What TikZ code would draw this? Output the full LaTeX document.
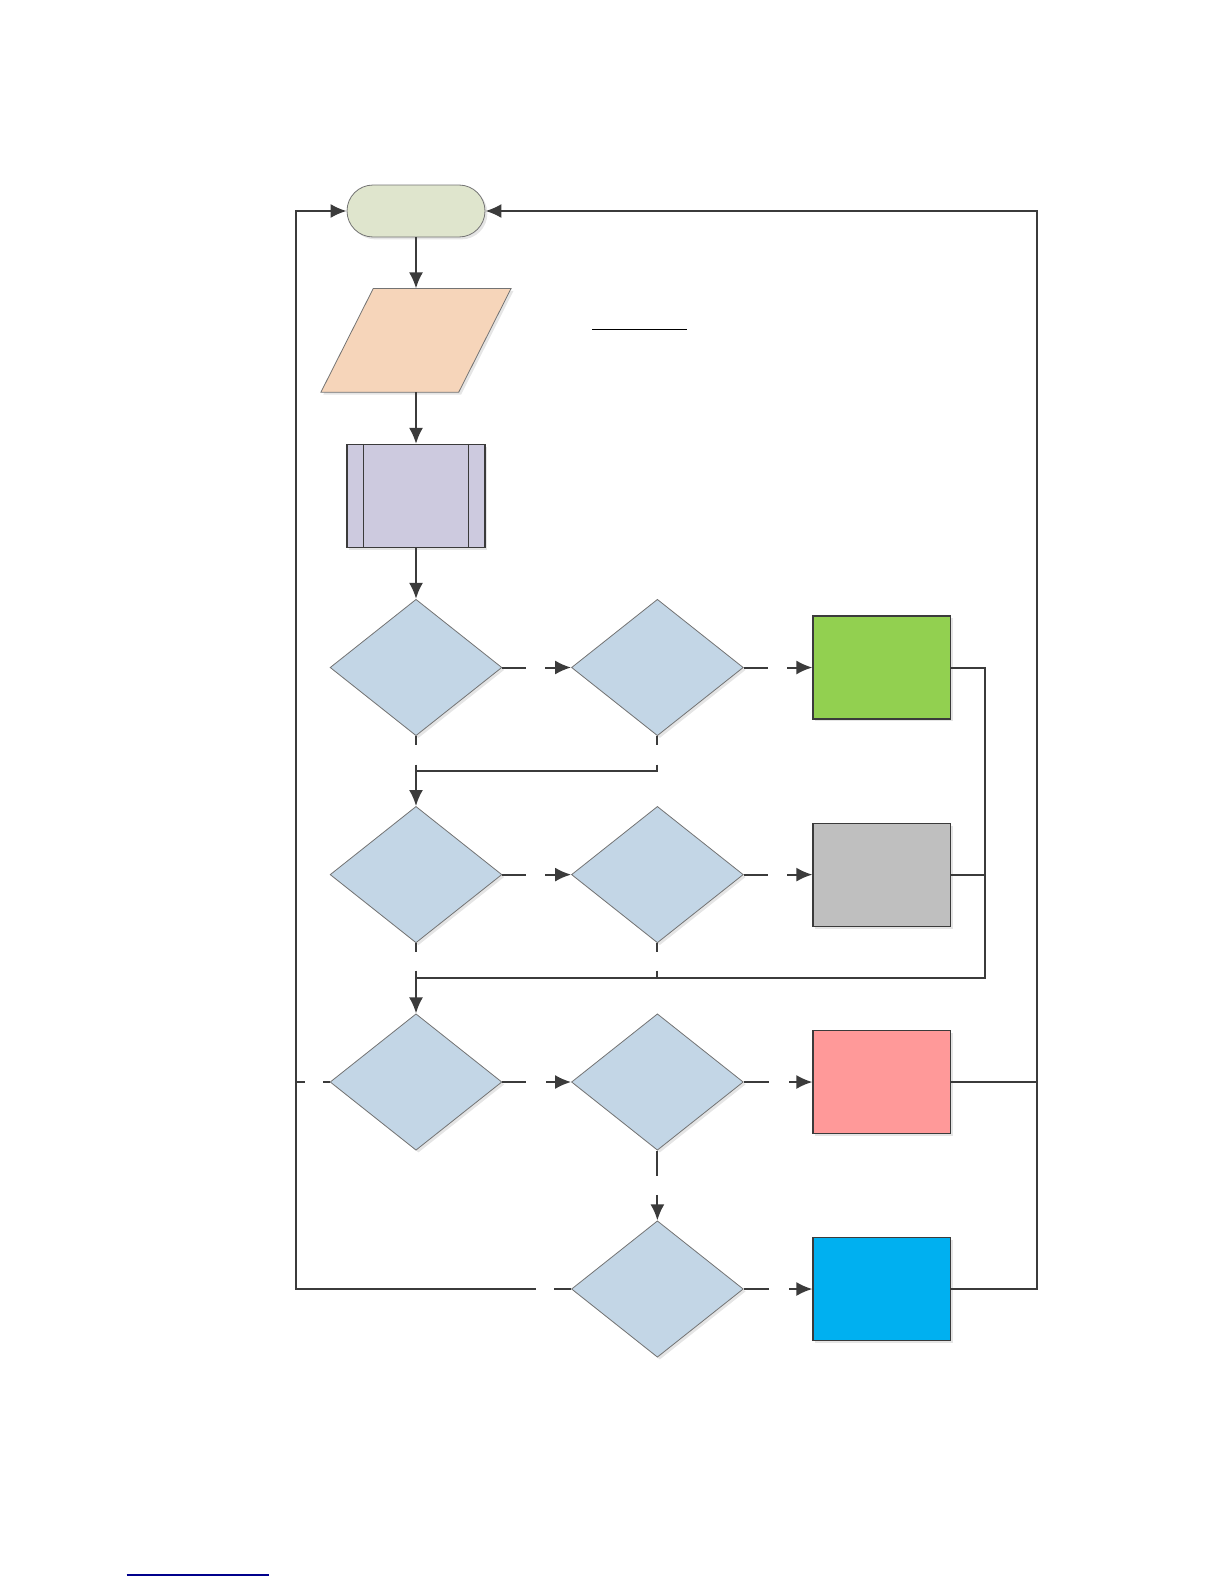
\documentclass[tikz,border=0pt]{standalone}
\usepackage{tikz}
\usetikzlibrary{shapes.geometric, shapes.misc, arrows.meta, shadows}
\definecolor{lineclr}{HTML}{3B3B3B}
\definecolor{termclr}{HTML}{DFE5CD}
\definecolor{inclr}{HTML}{F6D5BA}
\definecolor{subclr}{HTML}{CDCADF}
\definecolor{decclr}{HTML}{C3D6E6}
\definecolor{okclr}{HTML}{92D050}
\definecolor{midclr}{HTML}{BFBFBF}
\definecolor{badclr}{HTML}{FF9999}
\definecolor{infoclr}{HTML}{00B0F0}

\begin{document}
\begin{tikzpicture}[x=0.5pt, y=-0.5pt,
  shady/.style = {drop shadow={shadow xshift=1.2pt, shadow yshift=-1.2pt, fill=black!20, opacity=0.5}},
  term/.style = {rounded rectangle, draw=black!55, line width=0.4pt, fill=termclr, minimum width=69pt, minimum height=26pt, inner sep=0pt, shady},
  inbox/.style = {rectangle, minimum width=68.5pt, minimum height=51.5pt, inner sep=0pt},
  subbox/.style = {rectangle, draw=lineclr, line width=0.6pt, fill=subclr, minimum width=69pt, minimum height=51.5pt, inner sep=0pt, shady},
  dec/.style = {diamond, draw=black!55, line width=0.4pt, fill=decclr, minimum width=85.9pt, minimum height=68.2pt, inner sep=0pt, shady},
  res/.style = {rectangle, draw=lineclr, line width=0.6pt, minimum width=68.7pt, minimum height=51.5pt, inner sep=0pt, shady},
  ln/.style = {draw=lineclr, line width=1pt},
  arr/.style = {ln, -{Latex[length=8pt, width=7pt]}}]
  \useasboundingbox (0,0) rectangle (1224,1584);

  \node[term] (start) at (416,211) {};
  \node[inbox] (in) at (416,340.3) {};
  \filldraw[draw=black!55, line width=0.4pt, fill=inclr, shady]
    ([xshift=-13.1pt]in.south west) -- ([xshift=-13.1pt]in.south east)
    -- ([xshift=13.1pt]in.north east) -- ([xshift=13.1pt]in.north west) -- cycle;
  \node[subbox] (proc) at (416,496) {};
  \draw[lineclr, line width=0.6pt] ([xshift=8.6pt]proc.north west) -- ([xshift=8.6pt]proc.south west)
    ([xshift=-8.6pt]proc.north east) -- ([xshift=-8.6pt]proc.south east);

  \node[dec] (d1) at (416,667.5) {};
  \node[dec] (d2) at (657.4,667.5) {};
  \node[res, fill=okclr] (r1) at (881.7,667.5) {};
  \node[dec] (d3) at (416,874.6) {};
  \node[dec] (d4) at (657.4,874.6) {};
  \node[res, fill=midclr] (r2) at (881.7,874.6) {};
  \node[dec] (d5) at (416,1082) {};
  \node[dec] (d6) at (657.4,1082) {};
  \node[res, fill=badclr] (r3) at (881.7,1082) {};
  \node[dec] (d7) at (657.4,1289) {};
  \node[res, fill=infoclr] (r4) at (881.7,1289) {};

  \coordinate (j1) at (416,770.5);
  \coordinate (j2) at (416,977.7);
  \coordinate (j2r) at (984.7,977.7);
  \coordinate (lb) at (296,1289);
  \coordinate (rb) at (1037,1289);

  \draw[arr] (start) -- (in);
  \draw[arr] (in) -- (proc);
  \draw[arr] (proc) -- (d1);

  \draw[ln] (d1.east) -- ++(24,0);
  \draw[arr] (d2.west) ++(-26,0) -- (d2.west);
  \draw[ln] (d2.east) -- ++(24,0);
  \draw[arr] (r1.west) ++(-25,0) -- (r1.west);
  \draw[ln] (d1.south) -- ++(0,8.5);
  \draw[arr] (d1.south) ++(0,28.5) -- (d3.north);
  \draw[ln] (d2.south) -- ++(0,8.5);
  \draw[ln] (d2.south) ++(0,28.5) |- (j1);

  \draw[ln] (d3.east) -- ++(24,0);
  \draw[arr] (d4.west) ++(-26,0) -- (d4.west);
  \draw[ln] (d4.east) -- ++(24,0);
  \draw[arr] (r2.west) ++(-25,0) -- (r2.west);
  \draw[ln] (d3.south) -- ++(0,8.5);
  \draw[arr] (d3.south) ++(0,27.5) -- (d5.north);
  \draw[ln] (d4.south) -- ++(0,8.5);
  \draw[ln] (d4.south) ++(0,27.5) |- (j2);
  \draw[ln] (r1.east) -| (j2r) -- (j2);
  \draw[ln] (r2.east) -- (r2.east -| j2r);

  \draw[ln] (d5.west) -- ++(-7,0);
  \draw[ln] (d5.west) ++(-25,0) -- (d5.west -| lb);
  \draw[ln] (d5.east) -- ++(24,0);
  \draw[arr] (d6.west) ++(-25,0) -- (d6.west);
  \draw[ln] (d6.east) -- ++(25,0);
  \draw[arr] (r3.west) ++(-23,0) -- (r3.west);
  \draw[ln] (d6.south) -- ++(0,25);
  \draw[arr] (d6.south) ++(0,44.3) -- (d7.north);
  \draw[ln] (r3.east) -- (r3.east -| rb);

  \draw[ln] (d7.west) -- ++(-17,0);
  \draw[arr] (d7.west) ++(-35,0) -- (lb) |- (start.west);
  \draw[ln] (d7.east) -- ++(25,0);
  \draw[arr] (r4.west) ++(-23,0) -- (r4.west);
  \draw[arr] (r4.east) -- (rb) |- (start.east);

  \draw[black, line width=0.7pt] (592,329.3) -- (686.7,329.3);
  \draw[blue!55!black, line width=0.8pt] (126.7,1575) -- (269,1575);
\end{tikzpicture}
\end{document}
